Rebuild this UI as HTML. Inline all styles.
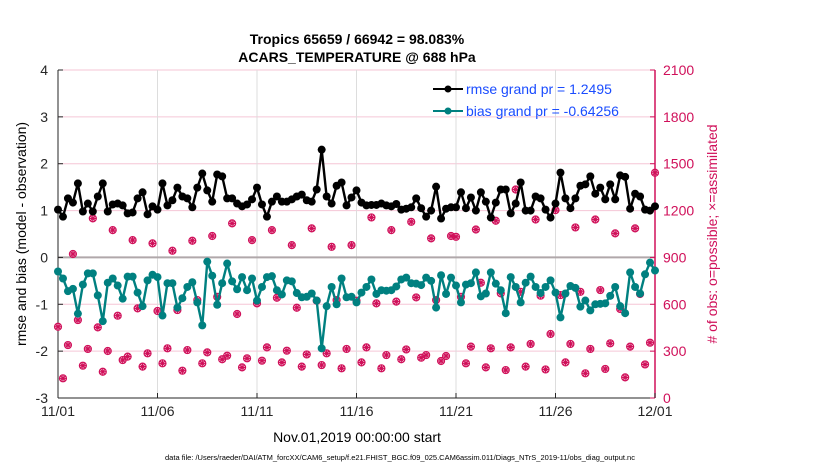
<!DOCTYPE html>
<html><head><meta charset="utf-8"><style>
body{margin:0;background:#fff;}
svg{display:block;font-family:"Liberation Sans",sans-serif;}
</style></head><body>
<svg id="chart" width="830" height="470" viewBox="0 0 830 470">
<rect width="830" height="470" fill="#fff"/>
<text x="357" y="44" text-anchor="middle" font-size="14" font-weight="bold">Tropics 65659 / 66942 = 98.083%</text>
<text x="357" y="62" text-anchor="middle" font-size="14" font-weight="bold">ACARS_TEMPERATURE @ 688 hPa</text>
<g id="grid"></g>
<g id="axes"></g>
<g id="series"></g>
<g>
<line x1="433" y1="89" x2="463" y2="89" stroke="#000" stroke-width="2"/><circle cx="448" cy="89" r="3.5" fill="#000"/>
<text x="466" y="94" font-size="14" fill="#1a4cff">rmse grand pr = 1.2495</text>
<line x1="433" y1="111" x2="463" y2="111" stroke="#008080" stroke-width="2"/><circle cx="448" cy="111" r="3.5" fill="#008080"/>
<text x="466" y="116" font-size="14" fill="#1a4cff">bias grand pr = -0.64256</text>
</g>
<text x="357" y="442" text-anchor="middle" font-size="14">Nov.01,2019 00:00:00 start</text>
<text x="26" y="234" text-anchor="middle" font-size="14" transform="rotate(-90 26 234)">rmse and bias (model - observation)</text>
<text x="717" y="234" text-anchor="middle" font-size="14" fill="#d0105a" transform="rotate(-90 717 234)"># of obs: o=possible; ×=assimilated</text>
<text x="400" y="460" text-anchor="middle" font-size="7.5">data file: /Users/raeder/DAI/ATM_forcXX/CAM6_setup/f.e21.FHIST_BGC.f09_025.CAM6assim.011/Diags_NTrS_2019-11/obs_diag_output.nc</text>
</svg>
<script>
const rmse=[1.02,0.87,1.26,1.17,1.58,0.98,1.15,0.98,1.30,1.58,0.98,1.13,1.15,1.11,0.94,0.96,1.26,1.39,0.92,1.09,1.02,1.58,1.11,1.22,1.49,1.30,1.26,1.07,1.49,1.79,1.43,1.19,1.77,1.73,1.26,1.26,1.15,1.09,1.13,1.24,
1.49,1.13,0.87,1.19,1.30,1.19,1.19,1.24,1.30,1.34,1.22,1.19,1.45,2.30,1.30,1.15,1.53,1.60,1.11,1.28,1.43,1.17,1.11,1.12,1.12,1.15,1.11,1.09,1.14,1.02,1.04,1.07,1.26,1.05,0.87,1.00,1.51,0.83,1.04,1.07,
1.07,1.39,1.05,1.28,1.00,1.39,1.19,0.85,1.17,1.45,1.45,0.94,1.15,1.60,1.00,1.00,1.30,1.26,1.02,0.85,1.15,1.81,1.26,1.05,1.26,1.53,1.56,1.73,1.36,1.49,1.24,1.56,1.24,1.75,1.72,1.04,1.36,1.30,1.02,1.00,1.09];
const bias=[-0.30,-0.45,-0.72,-0.67,-1.20,-0.58,-0.34,-0.34,-0.81,-1.36,-0.54,-0.45,-0.60,-0.88,-0.41,-0.41,-0.75,-1.04,-0.49,-0.37,-0.42,-1.24,-0.55,-0.55,-1.07,-0.87,-0.63,-0.53,-0.96,-1.45,-0.09,-0.39,-1.01,-0.55,-0.13,-0.51,-0.68,-0.42,-0.70,-0.45,
-0.92,-0.63,-0.42,-0.40,-0.70,-0.79,-0.49,-0.51,-0.76,-0.85,-0.84,-0.77,-0.92,-1.94,-1.04,-0.63,-1.00,-0.45,-0.85,-0.84,-0.96,-0.75,-0.63,-0.47,-0.78,-0.70,-0.71,-0.70,-0.62,-0.47,-0.43,-0.55,-0.56,-0.59,-0.43,-0.50,-1.07,-0.38,-0.78,-0.43,
-0.60,-0.96,-0.58,-0.55,-0.32,-0.83,-0.77,-0.32,-0.56,-0.70,-1.19,-0.42,-0.63,-0.96,-0.54,-0.41,-0.63,-0.76,-0.63,-0.49,-0.75,-1.28,-0.77,-0.61,-0.65,-1.05,-0.92,-1.13,-1.00,-0.99,-0.98,-0.82,-0.63,-1.04,-1.19,-0.32,-0.63,-0.77,-0.36,-0.11,-0.28];
const assimilated=[456,126,339,922,499,207,314,1150,452,168,301,1075,527,243,265,1011,574,201,286,990,557,222,318,943,563,175,307,1007,627,222,292,1037,648,248,271,1118,538,196,254,1011,
606,239,324,1075,642,228,303,979,578,201,279,1086,623,211,286,968,627,190,314,979,623,228,324,1156,606,190,275,1075,617,248,311,1128,644,258,275,1022,627,237,269,1037,
1032,648,222,329,1079,738,196,318,1135,670,179,324,1335,680,201,346,1143,655,183,410,1203,659,228,346,1092,680,158,314,1143,691,186,350,1054,570,132,329,1086,666,215,354,1442];
const possible=assimilated.map(v=>v);
const leftTicks=[4,3,2,1,0,-1,-2,-3];
const rightTicks=[2100,1800,1500,1200,900,600,300,0];
const xTickLabels=["11/01","11/06","11/11","11/16","11/21","11/26","12/01"];
const xTickDays=[0,5,10,15,20,25,30];

const X0=58,X1=655,Y0=398,Y1=70;
const NS="http://www.w3.org/2000/svg";
const xs=d=>X0+(X1-X0)*d/30;
const yl=v=>Y0-(Y0-Y1)*(v+3)/7;
const yr=v=>Y0-(Y0-Y1)*v/2100;
const xi=(i,n)=>X0+(X1-X0)*i/(n-1);
function mk(tag,attrs,parent){const e=document.createElementNS(NS,tag);for(const k in attrs)e.setAttribute(k,attrs[k]);parent.appendChild(e);return e;}
const grid=document.getElementById('grid'),axes=document.getElementById('axes'),ser=document.getElementById('series');

rightTicks.forEach(t=>{
 const l=mk('line',{x1:X0,x2:X1,y1:yr(t),y2:yr(t),stroke:'#f5c6d6','stroke-width':1},grid);
 
 
});
xTickDays.forEach(d=>{
 const l=mk('line',{x1:xs(d),x2:xs(d),y1:Y1,y2:Y0,stroke:'#ddd','stroke-width':1},grid);
 
 
});
const z=mk('line',{x1:X0,x2:X1,y1:yl(0),y2:yl(0),stroke:'#b0a8aa','stroke-width':2},grid);



const al=mk('line',{x1:X0,x2:X0,y1:Y1,y2:Y0,stroke:'#262626','stroke-width':1},axes);


const ab=mk('line',{x1:X0,x2:X1,y1:Y0,y2:Y0,stroke:'#262626','stroke-width':1},axes);


const ar=mk('line',{x1:X1,x2:X1,y1:Y1,y2:Y0,stroke:'#d0105a','stroke-width':1.5},axes);


leftTicks.forEach(t=>{
 mk('line',{x1:X0,x2:X0+5,y1:yl(t),y2:yl(t),stroke:'#262626'},axes);
 const tx=mk('text',{x:X0-10,y:yl(t)+5,'text-anchor':'end','font-size':14,fill:'#262626'},axes);
 tx.textContent=t;
 
 
});
rightTicks.forEach(t=>{
 mk('line',{x1:X1-5,x2:X1,y1:yr(t),y2:yr(t),stroke:'#d0105a'},axes);
 const tx=mk('text',{x:X1+8,y:yr(t)+5,'font-size':14,fill:'#d0105a'},axes);
 tx.textContent=t;
 
 
});
xTickDays.forEach((d,i)=>{
 mk('line',{x1:xs(d),x2:xs(d),y1:Y0,y2:Y0-5,stroke:'#262626'},axes);
 const tx=mk('text',{x:xs(d),y:Y0+18,'text-anchor':'middle','font-size':14,fill:'#262626'},axes);
 tx.textContent=xTickLabels[i];
 
 
});

assimilated.forEach((v,i)=>{
 const x=xi(i,assimilated.length),y=yr(v);
 const g=mk('g',{stroke:'#d0105a','stroke-width':1.2},ser);
 
 
 mk('line',{x1:x-3.5,x2:x+3.5,y1:y,y2:y},g);
 mk('line',{x1:x,x2:x,y1:y-3.5,y2:y+3.5},g);
 mk('line',{x1:x-2.5,x2:x+2.5,y1:y-2.5,y2:y+2.5},g);
 mk('line',{x1:x-2.5,x2:x+2.5,y1:y+2.5,y2:y-2.5},g);
});
possible.forEach((v,i)=>{
 const c=mk('circle',{cx:xi(i,possible.length),cy:yr(v),r:3.5,fill:'none',stroke:'#d0105a','stroke-width':1.2},ser);
 
 
});

function line(arr,color,name){
 const pts=arr.map((v,i)=>xi(i,arr.length).toFixed(1)+','+yl(v).toFixed(1)).join(' ');
 const p=mk('polyline',{points:pts,fill:'none',stroke:color,'stroke-width':2.4,'stroke-linejoin':'round'},ser);
 
 
 arr.forEach((v,i)=>{
  const c=mk('circle',{cx:xi(i,arr.length),cy:yl(v),r:4,fill:color},ser);
  
  
 });
}
line(bias,'#008080','bias');
line(rmse,'#000000','rmse');
</script>
</body></html>
